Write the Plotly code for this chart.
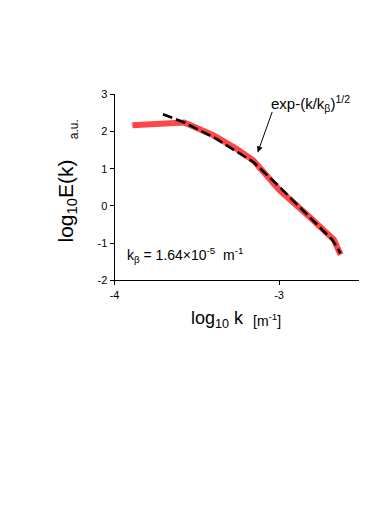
import plotly.graph_objects as go

# Data
red_x = [-3.892, -3.576, -3.40, -3.256, -3.156, -2.996, -2.816, -2.666, -2.626]
red_y = [2.173, 2.243, 1.90, 1.533, 1.22, 0.42, -0.29, -0.91, -1.31]
fit_x = [-3.706, -3.576, -3.396, -3.156, -2.996, -2.836, -2.676, -2.626]
fit_y = [2.467, 2.243, 1.843, 1.18, 0.51, -0.20, -0.91, -1.27]
x_ticks = [-4, -3]
x_ticklabels = ["-4", "-3"]
y_ticks = [-2, -1, 0, 1, 2, 3]
y_ticklabels = ["-2", "-1", "0", "1", "2", "3"]

W, H = 390, 510
x0p, x1p = 111.0, 358.5
y0p, y1p = 90.5, 281.0

FONT = "Liberation Sans, Arial, sans-serif"

fig = go.Figure()
fig.add_trace(go.Scatter(x=red_x, y=red_y, mode="lines",
                         line=dict(color="#ff4545", width=6), showlegend=False))
fig.add_trace(go.Scatter(x=fit_x, y=fit_y, mode="lines",
                         line=dict(color="black", width=2.6, dash="10px,4px"), showlegend=False))

fig.update_layout(
    width=W, height=H, margin=dict(l=0, r=0, t=0, b=0),
    paper_bgcolor="white", plot_bgcolor="white",
    font=dict(family=FONT, color="black", size=11),
    xaxis=dict(domain=[x0p / W, x1p / W], range=[-4, -4 + (x1p - x0p) / 166.6],
               showline=True, linecolor="black", linewidth=1, showgrid=False, zeroline=False,
               ticks="outside", ticklen=4, tickcolor="black",
               tickvals=x_ticks, ticktext=x_ticklabels, tickfont=dict(size=11)),
    yaxis=dict(domain=[1 - y1p / H, 1 - y0p / H], range=[-2, 3],
               showline=True, linecolor="black", linewidth=1, showgrid=False, zeroline=False,
               ticks="outside", ticklen=4, tickcolor="black",
               tickvals=y_ticks, ticktext=y_ticklabels, tickfont=dict(size=11)),
)

def px(x, y):
    return dict(x=x / W, y=1 - y / H, xref="paper", yref="paper", showarrow=False)

fig.add_annotation(text="log<sub>10</sub>E(k)", textangle=-90, font=dict(size=21),
                   xanchor="center", yanchor="middle", **px(63, 200))
fig.add_annotation(text="a.u.", textangle=-90, font=dict(size=12),
                   xanchor="center", yanchor="middle", **px(70, 126))
fig.add_annotation(text="log<sub>10</sub> k", font=dict(size=18),
                   xanchor="center", yanchor="middle", **px(215, 321))
fig.add_annotation(text="[m<sup>-1</sup>]", font=dict(size=14),
                   xanchor="center", yanchor="middle", **px(265, 322))
fig.add_annotation(text="k<sub>β</sub> = 1.64×10<sup>-5</sup>&nbsp;&nbsp;m<sup>-1</sup>", font=dict(size=14),
                   xanchor="left", yanchor="middle", **px(122, 255))
fig.add_annotation(text="exp-(k/k<sub>β</sub>)<sup>1/2</sup>", font=dict(size=15),
                   xanchor="center", yanchor="middle", **px(309, 100))
fig.add_annotation(x=256 / W, y=1 - 150 / H, xref="paper", yref="paper",
                   ax=15, ay=-42, axref="pixel", ayref="pixel",
                   showarrow=True, arrowhead=2, arrowsize=1.2, arrowwidth=1, arrowcolor="black", text="")

fig.write_html("out.html", config={"displayModeBar": False},
               post_script="document.body.style.margin='0';document.body.style.overflow='hidden';")
